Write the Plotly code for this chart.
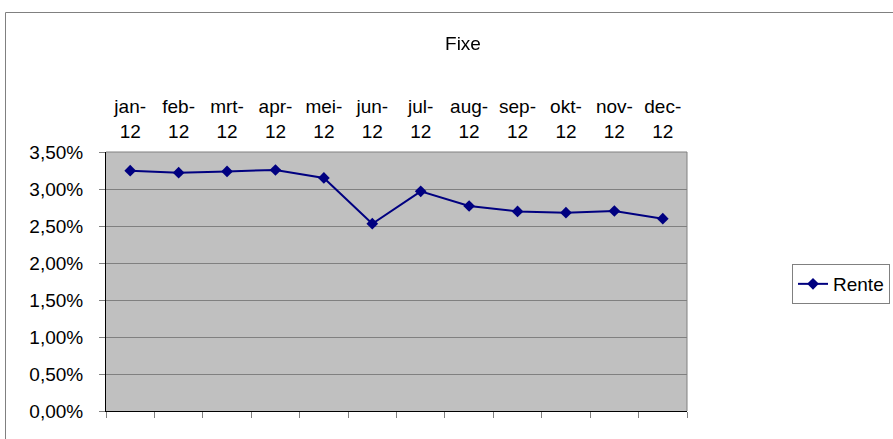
import plotly.graph_objects as go

categories = ["jan-12", "feb-12", "mrt-12", "apr-12", "mei-12", "jun-12",
              "jul-12", "aug-12", "sep-12", "okt-12", "nov-12", "dec-12"]
rente = [0.03247, 0.03220, 0.03238, 0.03257, 0.03149, 0.02531,
         0.02968, 0.02770, 0.02697, 0.02680, 0.02703, 0.02599]
y_ticks = [0.0, 0.005, 0.010, 0.015, 0.020, 0.025, 0.030, 0.035]
series_name = "Rente"
title = "Fixe"

FONT = "Liberation Sans, Arial, sans-serif"
FS = 19
NAVY = "#000080"
GRID = "#808080"

W, H = 893, 439
L, R, T, B = 106, 893 - 687, 152, 439 - 411
pw = W - L - R
ph = H - T - B

fig = go.Figure()
fig.add_trace(go.Scatter(
    x=categories, y=rente, name=series_name, mode="lines+markers",
    line=dict(color=NAVY, width=2),
    marker=dict(symbol="diamond", size=9, color=NAVY),
    xaxis="x", yaxis="y",
))
# invisible trace binding top label axis
fig.add_trace(go.Scatter(
    x=categories, y=rente, mode="markers", opacity=0, showlegend=False,
    hoverinfo="skip", xaxis="x2", yaxis="y",
))

top_labels = [c.replace("-", "-<br>") for c in categories]

fig.update_layout(
    width=W, height=H,
    margin=dict(l=L, r=R, t=T, b=B, pad=0, autoexpand=False),
    paper_bgcolor="white",
    plot_bgcolor="#C0C0C0",
    separators=", ",
    font=dict(family=FONT, size=FS, color="black"),
    title=dict(text=title, x=(463 - L) / pw, xref="paper", xanchor="center",
               y=1 - 43 / H, yref="container", yanchor="middle",
               font=dict(family=FONT, size=FS, color="black")),
    showlegend=True,
    legend=dict(x=(792 - L) / pw, xanchor="left", y=(411 - 264) / ph, yanchor="top",
                bordercolor="#808080", borderwidth=1, bgcolor="white",
                font=dict(family=FONT, size=FS, color="black")),
    xaxis=dict(
        type="category", categoryorder="array", categoryarray=categories,
        range=[-0.5, len(categories) - 0.5],
        showticklabels=False, ticks="outside", tickson="boundaries",
        ticklen=6, tickcolor="#808080", showline=True, linecolor="black",
        linewidth=1, showgrid=False, zeroline=False,
    ),
    xaxis2=dict(
        type="category", categoryorder="array", categoryarray=categories,
        range=[-0.5, len(categories) - 0.5],
        overlaying="x", side="top", anchor="y",
        tickmode="array", tickvals=categories, ticktext=top_labels,
        ticks="", showline=False, showgrid=False, zeroline=False,
        ticklabelstandoff=9,
        tickfont=dict(family=FONT, size=FS, color="black"),
    ),
    yaxis=dict(
        range=[0, 0.035], tickmode="array", tickvals=y_ticks, tickformat=".2%",
        ticks="outside", ticklen=6, tickcolor="#808080",
        showline=True, linecolor="black", linewidth=1,
        showgrid=True, gridcolor=GRID, gridwidth=1, zeroline=False,
        ticklabelstandoff=12,
        tickfont=dict(family=FONT, size=FS, color="black"),
    ),
    shapes=[
        # plot-area top and right borders
        dict(type="line", xref="x domain", yref="y domain", x0=0, x1=1, y0=1, y1=1,
             line=dict(color="#808080", width=1)),
        dict(type="line", xref="x domain", yref="y domain", x0=1, x1=1, y0=0, y1=1,
             line=dict(color="#808080", width=1)),
        # chart-area outer border
        dict(type="rect", xref="paper", yref="paper",
             x0=(5.5 - L) / pw, x1=(W + 10 - L) / pw,
             y0=-(H + 10 - (T + ph)) / ph, y1=(T + ph - 12.5) / ph,
             line=dict(color="#808080", width=1), fillcolor="rgba(0,0,0,0)"),
    ],
)

fig.write_html("out.html", config={"displayModeBar": False},
               post_script="document.body.style.margin='0';document.body.style.overflow='hidden';")
